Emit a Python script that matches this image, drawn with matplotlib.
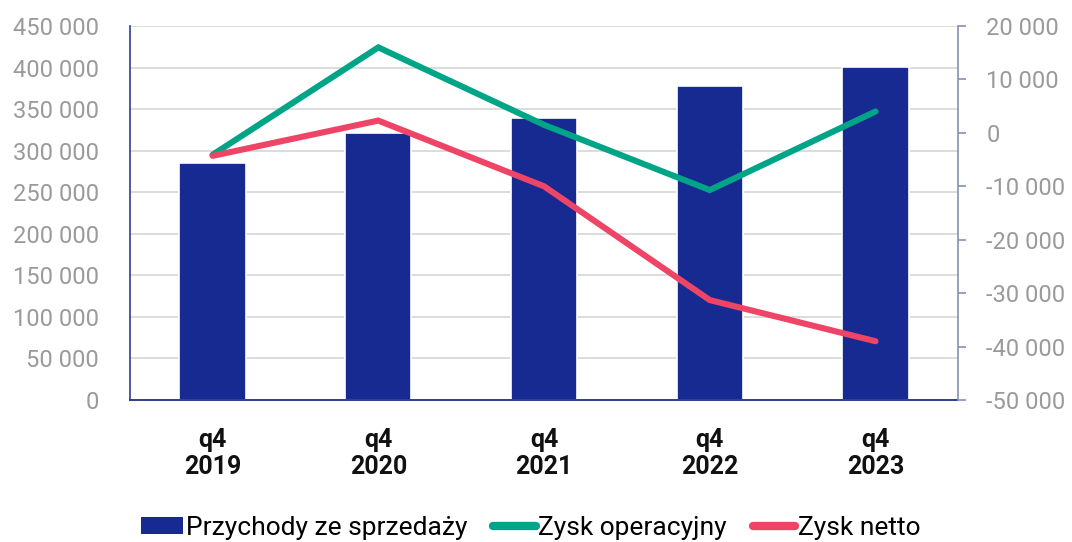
import matplotlib.pyplot as plt
import numpy as np
from matplotlib.lines import Line2D
from matplotlib.patches import Patch

plt.rcParams['font.family'] = ['Roboto', 'DejaVu Sans']

# data
quarters = ['q4\n2019', 'q4\n2020', 'q4\n2021', 'q4\n2022', 'q4\n2023']
revenue = [285000, 321000, 339000, 377500, 401000]
op_profit = [-4100, 16000, 1500, -10700, 4000]
net_profit = [-4300, 2300, -10000, -31300, -39000]

left_ticks = np.arange(0, 450001, 50000)
right_ticks = np.arange(-50000, 20001, 10000)

def fmt(v):
    return '{:,}'.format(int(v)).replace(',', ' ')

blue = '#162a91'
green = '#00a587'
red = '#ee4466'
grey_txt = '#9a9a9a'

fig = plt.figure(figsize=(10.72, 5.42), dpi=100)
ax = fig.add_axes([0.121, 0.262, 0.773, 0.690])
x = np.arange(len(quarters))

ax.bar(x, revenue, width=0.4, color=blue, edgecolor='white', linewidth=1.2, zorder=2)
ax.set_ylim(0, 450000)
ax.set_xlim(-0.5, len(quarters) - 0.5)
ax.set_yticks(left_ticks)
ax.set_yticklabels([fmt(v) for v in left_ticks], color=grey_txt, fontsize=17)
ax.tick_params(axis='y', length=0, pad=22)
ax.set_xticks(x)
ax.set_xticklabels(quarters, fontsize=18, fontweight='bold', color='#111111', linespacing=1.15)
ax.tick_params(axis='x', length=0, pad=20)
ax.grid(axis='y', color='#d9d9d9', linewidth=1.3, zorder=0)
ax.set_axisbelow(True)
for s in ['top', 'right']:
    ax.spines[s].set_visible(False)
ax.spines['left'].set_color('#2c3f8f')
ax.spines['left'].set_linewidth(1.2)
ax.spines['bottom'].set_color('#2c3f8f')
ax.spines['bottom'].set_linewidth(1.4)

ax2 = ax.twinx()
ax2.plot(x, op_profit, color=green, linewidth=4.4, solid_capstyle='round', solid_joinstyle='miter', zorder=3)
ax2.plot(x, net_profit, color=red, linewidth=4.4, solid_capstyle='round', solid_joinstyle='miter', zorder=3)
ax2.set_ylim(-50000, 20000)
ax2.set_yticks(right_ticks)
ax2.set_yticklabels([fmt(v) for v in right_ticks], color=grey_txt, fontsize=17)
ax2.tick_params(axis='y', length=6, width=1.2, color='#8890b5', pad=14)
for s in ['top', 'left', 'bottom']:
    ax2.spines[s].set_visible(False)
ax2.spines['right'].set_color('#8890b5')
ax2.spines['right'].set_linewidth(1.2)

handles = [
    Patch(facecolor=blue, edgecolor='none'),
    Line2D([0], [0], color=green, linewidth=6, solid_capstyle='round'),
    Line2D([0], [0], color=red, linewidth=6, solid_capstyle='round'),
]
fig.legend(handles, ['Przychody ze sprzedaży', 'Zysk operacyjny', 'Zysk netto'],
           loc='center', bbox_to_anchor=(0.495, 0.026), ncol=3, frameon=False,
           fontsize=19, handlelength=1.6, handleheight=0.6, handletextpad=0.1,
           columnspacing=1.0)

fig.savefig('out.png', dpi=100)
